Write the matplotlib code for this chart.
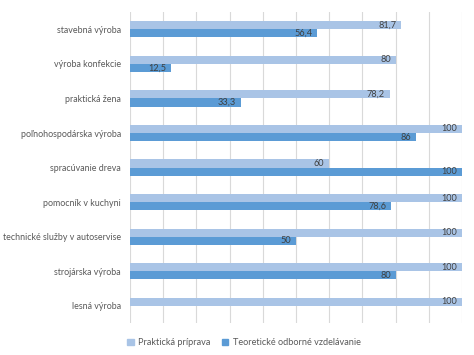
import numpy as np
import matplotlib
matplotlib.use("Agg")
import matplotlib.pyplot as plt

categories = ["stavebná výroba", "výroba konfekcie", "praktická žena",
              "poľnohospodárska výroba", "spracúvanie dreva", "pomocník v kuchyni",
              "technické služby v autoservise", "strojárska výroba", "lesná výroba"]
prakticka = [81.7, 80, 78.2, 100, 60, 100, 100, 100, 100]
teoreticka = [56.4, 12.5, 33.3, 86, 100, 78.6, 50, 80, None]
series_names = ["Praktická príprava", "Teoretické odborné vzdelávanie"]

LIGHT = "#a9c4e6"
DARK = "#5b9bd5"
GRAY = "#595959"

plt.rcParams["font.family"] = ["Lato", "DejaVu Sans"]

fig = plt.figure(figsize=(4.74, 3.55), dpi=100)
ax = fig.add_axes([0.274, 0.09, 0.701, 0.876])

y = np.arange(len(categories))
h = 0.235

def fmt(v):
    return ("%g" % v).replace(".", ",")

for vals, off, col in [(prakticka, -h / 2, LIGHT), (teoreticka, h / 2, DARK)]:
    for yi, v in zip(y, vals):
        if v is None:
            continue
        ax.barh(yi + off, v, height=h, color=col, zorder=2)
        ax.text(v - 1.5, yi + off, fmt(v), ha="right", va="center",
                fontsize=6.6, color="#404040", zorder=3)

ax.set_xlim(0, 100)
ax.set_ylim(len(categories) - 0.5, -0.5)
ax.set_xticks(np.arange(0, 101, 10))
ax.tick_params(axis="x", length=0, labelbottom=False)
ax.tick_params(axis="y", length=0, labelsize=6.4, labelcolor=GRAY, pad=6.5)
ax.set_yticks(y)
ax.set_yticklabels(categories)
ax.grid(axis="x", color="#d9d9d9", linewidth=0.8, zorder=0)
for s in ax.spines.values():
    s.set_visible(False)

handles = [plt.Rectangle((0, 0), 1, 1, color=LIGHT),
           plt.Rectangle((0, 0), 1, 1, color=DARK)]
fig.legend(handles, series_names, loc="center", bbox_to_anchor=(0.515, 0.035),
           ncol=2, frameon=False, fontsize=6.6, labelcolor=GRAY,
           handlelength=0.7, handleheight=0.7, handletextpad=0.5, columnspacing=1.2)

fig.savefig("out.png", dpi=100, facecolor="white")
